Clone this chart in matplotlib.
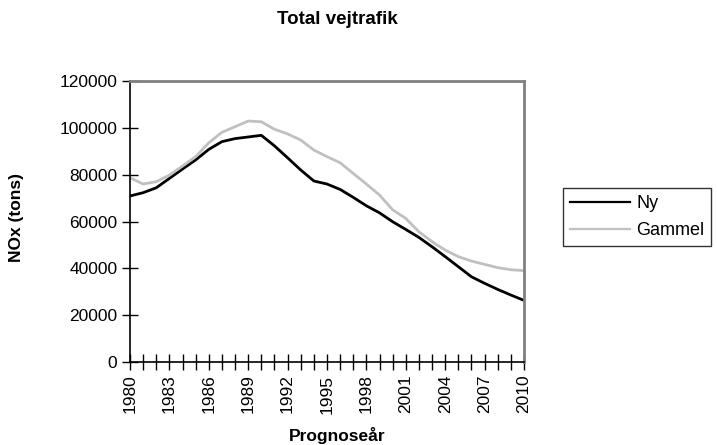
import matplotlib
matplotlib.use("Agg")
import matplotlib.pyplot as plt
from matplotlib.ticker import MultipleLocator, FixedLocator

years = list(range(1980, 2011))
ny = [70900, 72300, 74400, 78400, 82400, 86300, 90800, 94100, 95400, 96100,
      96800, 92300, 87200, 82000, 77300, 76000, 73700, 70300, 66700, 63700,
      59900, 56600, 53200, 49200, 45000, 40700, 36400, 33600, 31000, 28600, 26300]
gammel = [78700, 76000, 77000, 79800, 83700, 87700, 93600, 98100, 100500, 102900,
          102600, 99400, 97400, 94800, 90500, 87700, 85100, 80500, 76000, 71300,
          65000, 61300, 55600, 51400, 47800, 45000, 43100, 41700, 40300, 39400, 39000]
xtick_labels = [str(y) for y in range(1980, 2011, 3)]
yticks = [0, 20000, 40000, 60000, 80000, 100000, 120000]

plt.rcParams['font.family'] = ['Liberation Sans', 'DejaVu Sans']

fig = plt.figure(figsize=(7.17, 4.45), dpi=100)
ax = fig.add_axes([130/717, 1-362/445, (524-130)/717, (362-81)/445])

ax.plot(years, ny, color='black', lw=2, label='Ny')
ax.plot(years, gammel, color='#c0c0c0', lw=2, label='Gammel')

ax.set_xlim(1980, 2010)
ax.set_ylim(0, 120000)
ax.set_yticks(yticks)
ax.set_yticklabels([str(v) for v in yticks], fontsize=12.5)
ax.xaxis.set_major_locator(FixedLocator(list(range(1980, 2011, 3))))
ax.set_xticklabels(xtick_labels, rotation=90, fontsize=12.5)
ax.xaxis.set_minor_locator(MultipleLocator(1))
ax.tick_params(axis='both', which='both', direction='inout', length=12, width=1, color='black')
ax.tick_params(axis='x', which='major', pad=3)
ax.tick_params(axis='y', which='major', pad=3)

for s in ['left', 'bottom']:
    ax.spines[s].set_color('black')
    ax.spines[s].set_linewidth(1.2)
for s in ['top', 'right']:
    ax.spines[s].set_color('#808080')
    ax.spines[s].set_linewidth(2)

fig.text(337/717, 1-20/445, 'Total vejtrafik', ha='center', va='center',
         fontsize=13.5, fontweight='bold')
fig.text(337/717, 1-436/445, 'Prognoseår', ha='center', va='center',
         fontsize=12.5, fontweight='bold')
fig.text(17/717, 1-218/445, 'NOx (tons)', ha='center', va='center',
         rotation=90, fontsize=12.5, fontweight='bold')

leg = fig.legend(loc='upper left', bbox_to_anchor=(563/717, 1-188/445),
                 frameon=True, fancybox=False, fontsize=13, handlelength=3.3,
                 borderpad=0.4, labelspacing=0.55, handletextpad=0.35,
                 borderaxespad=0)
leg.get_frame().set_edgecolor('black')
leg.get_frame().set_linewidth(1)
for line in leg.get_lines():
    line.set_linewidth(1.6)

fig.savefig('out.png', dpi=100)
